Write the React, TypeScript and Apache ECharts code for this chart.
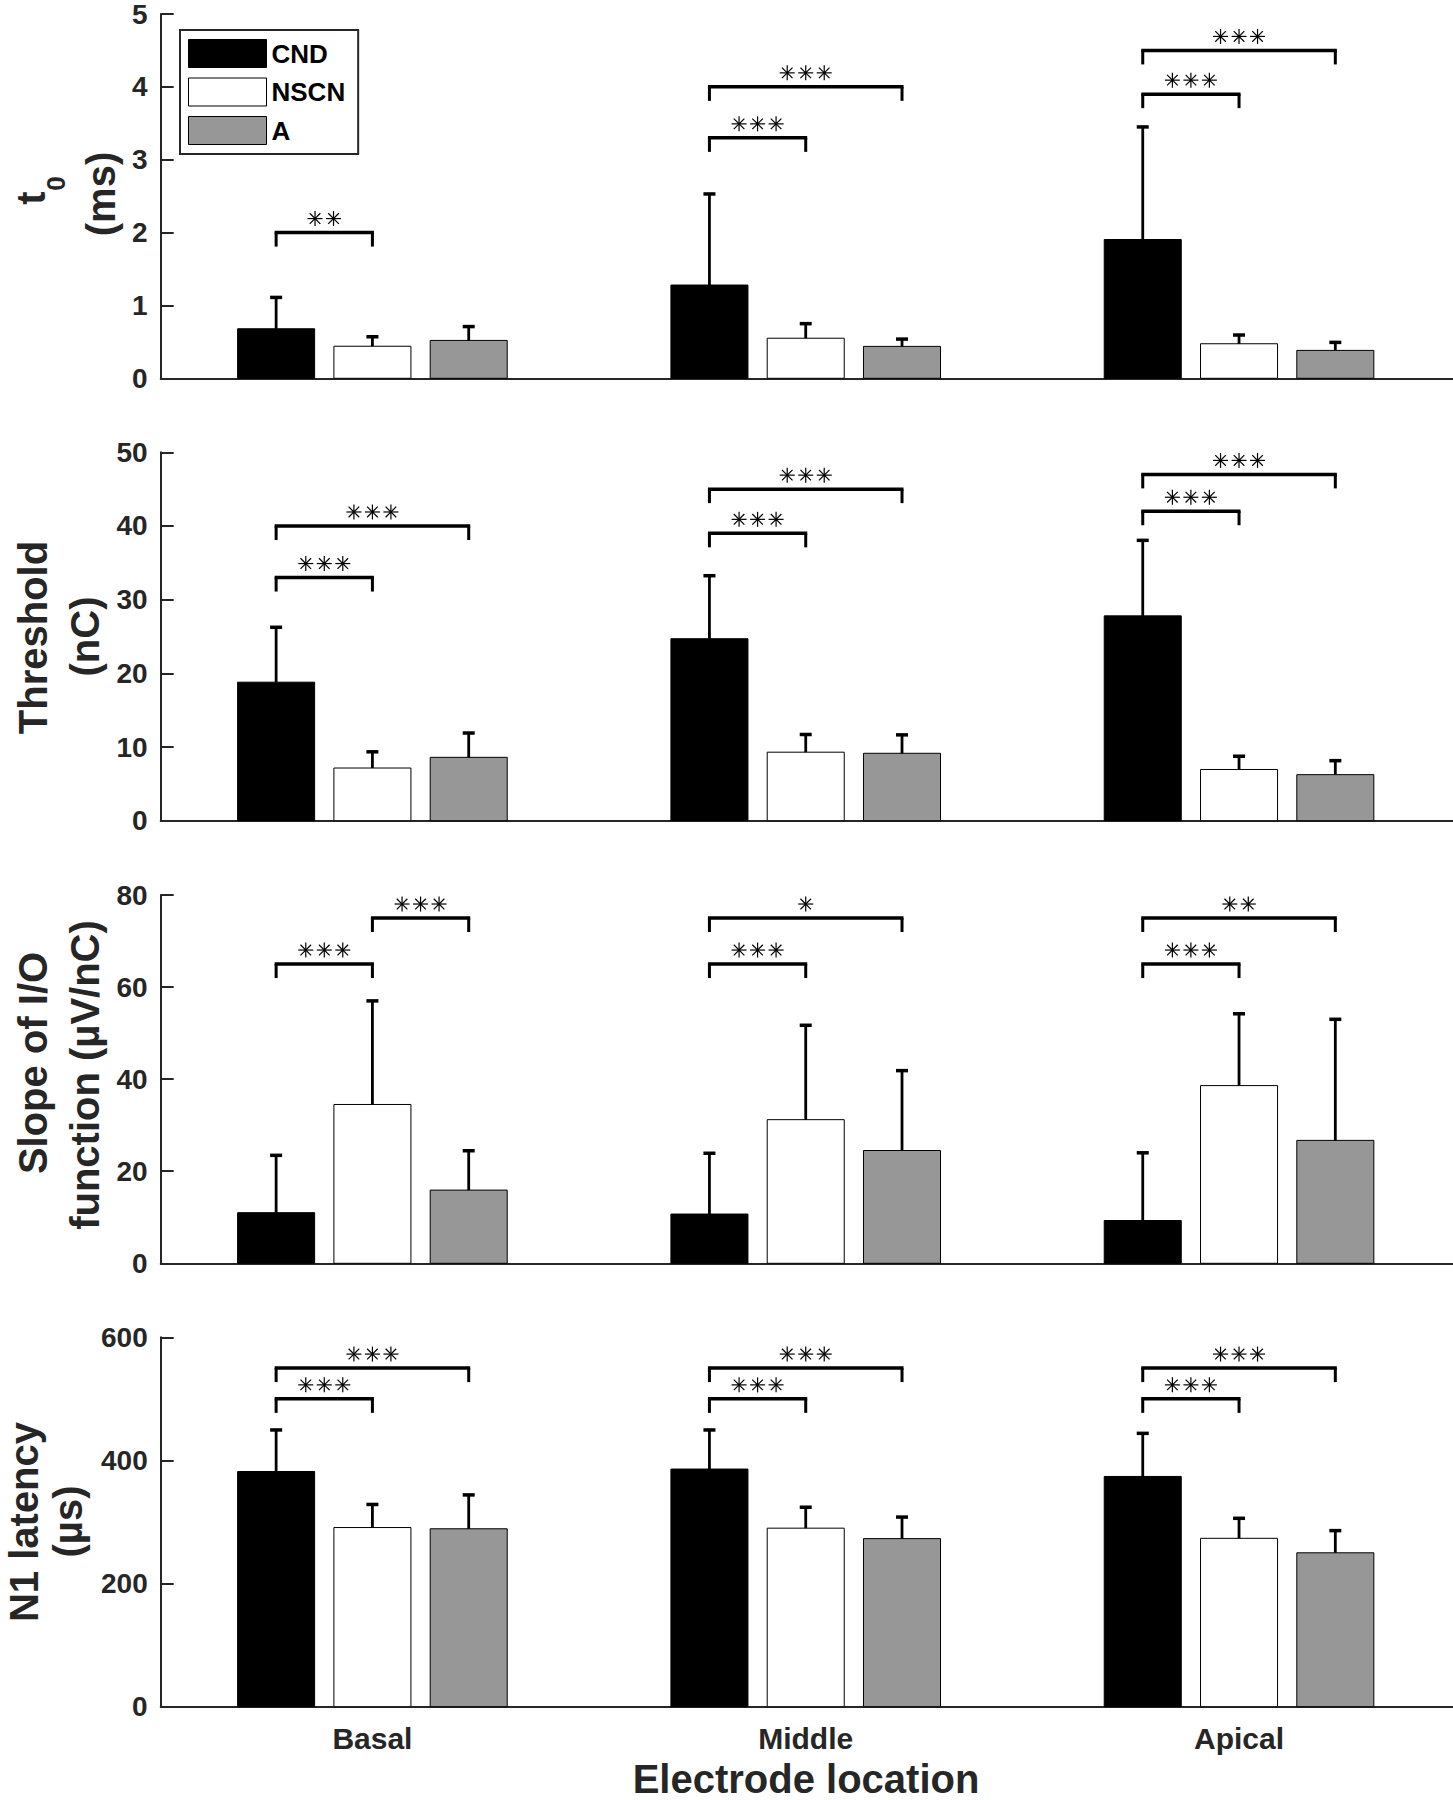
import React, { useEffect, useRef } from 'react';
import * as echarts from 'echarts';

// ---------- data ----------
const CATEGORIES = ['Basal', 'Middle', 'Apical'];
const GROUPS = ['CND', 'NSCN', 'A'];

// t0 (ms)
const T0_CND_MEAN = [0.68, 1.28, 1.905];
const T0_CND_SD = [0.43, 1.25, 1.545];
const T0_NSCN_MEAN = [0.44, 0.55, 0.474];
const T0_NSCN_SD = [0.13, 0.2, 0.12];
const T0_A_MEAN = [0.52, 0.438, 0.383];
const T0_A_SD = [0.19, 0.1, 0.11];

// Threshold (nC)
const TH_CND_MEAN = [18.8, 24.7, 27.8];
const TH_CND_SD = [7.45, 8.55, 10.25];
const TH_NSCN_MEAN = [7.15, 9.3, 6.95];
const TH_NSCN_SD = [2.2, 2.4, 1.8];
const TH_A_MEAN = [8.6, 9.15, 6.25];
const TH_A_SD = [3.3, 2.5, 1.9];

// Slope of I/O function (µV/nC)
const SL_CND_MEAN = [11.0, 10.7, 9.3];
const SL_CND_SD = [12.45, 13.2, 14.7];
const SL_NSCN_MEAN = [34.5, 31.2, 38.6];
const SL_NSCN_SD = [22.5, 20.5, 15.6];
const SL_A_MEAN = [15.9, 24.5, 26.7];
const SL_A_SD = [8.55, 17.35, 26.3];

// N1 latency (µs)
const N1_CND_MEAN = [382, 386, 374];
const N1_CND_SD = [67.5, 63.5, 70];
const N1_NSCN_MEAN = [291, 290, 273.5];
const N1_NSCN_SD = [37.5, 34, 32.5];
const N1_A_MEAN = [289, 273, 250];
const N1_A_SD = [55, 35, 36];

// significance brackets: [category (1..3), from group, to group, level, number of stars]
const T0_BRACKETS = [
  [1, 0, 1, 2.0, 2],
  [2, 0, 1, 3.3, 3],
  [2, 0, 2, 4.0, 3],
  [3, 0, 1, 3.9, 3],
  [3, 0, 2, 4.5, 3],
];
const TH_BRACKETS = [
  [1, 0, 1, 33, 3],
  [1, 0, 2, 40, 3],
  [2, 0, 1, 39, 3],
  [2, 0, 2, 45, 3],
  [3, 0, 1, 42, 3],
  [3, 0, 2, 47, 3],
];
const SL_BRACKETS = [
  [1, 0, 1, 65, 3],
  [1, 1, 2, 75, 3],
  [2, 0, 1, 65, 3],
  [2, 0, 2, 75, 1],
  [3, 0, 1, 65, 3],
  [3, 0, 2, 75, 2],
];
const N1_BRACKETS = [
  [1, 0, 1, 500, 3],
  [1, 0, 2, 550, 3],
  [2, 0, 1, 500, 3],
  [2, 0, 2, 550, 3],
  [3, 0, 1, 500, 3],
  [3, 0, 2, 550, 3],
];

const Y_MAX = [5, 50, 80, 600];
const Y_INTERVAL = [1, 10, 20, 200];

// ---------- styling / layout ----------
const FONT = '"Liberation Sans", Arial, Helvetica, sans-serif';
const AXIS_COLOR = '#262626';
const GROUP_COLORS = ['#000000', '#ffffff', '#979797'];
const GRID_TOP = [9.5, 452.3, 895, 1337.3];
const GRID_BOTTOM = [378.3, 820.7, 1263.3, 1706.7];
const GRID_LEFT = 160.7;
const X_MIN = 0.5114;
const X_MAX = 3.4938;
const OFFSETS = [-2 / 9, 0, 2 / 9];
const BAR_W = 0.8 * 2 / 9;

const PANELS = [
  { mean: [T0_CND_MEAN, T0_NSCN_MEAN, T0_A_MEAN], sd: [T0_CND_SD, T0_NSCN_SD, T0_A_SD], brackets: T0_BRACKETS },
  { mean: [TH_CND_MEAN, TH_NSCN_MEAN, TH_A_MEAN], sd: [TH_CND_SD, TH_NSCN_SD, TH_A_SD], brackets: TH_BRACKETS },
  { mean: [SL_CND_MEAN, SL_NSCN_MEAN, SL_A_MEAN], sd: [SL_CND_SD, SL_NSCN_SD, SL_A_SD], brackets: SL_BRACKETS },
  { mean: [N1_CND_MEAN, N1_NSCN_MEAN, N1_A_MEAN], sd: [N1_CND_SD, N1_NSCN_SD, N1_A_SD], brackets: N1_BRACKETS },
];

function makeBarRender(gi: number) {
  const fill = GROUP_COLORS[gi];
  return (params: any, api: any) => {
    const cat = api.value(0);
    const mean = api.value(1);
    const sd = api.value(2);
    const x = cat + OFFSETS[gi];
    const top = api.coord([x, mean]);
    const base = api.coord([x, 0]);
    const err = api.coord([x, mean + sd]);
    const w = api.size([BAR_W, 0])[0];
    return {
      type: 'group',
      children: [
        {
          type: 'rect',
          shape: { x: top[0] - w / 2, y: top[1], width: w, height: base[1] - top[1] },
          style: { fill, stroke: '#000', lineWidth: 1 },
        },
        {
          type: 'line',
          shape: { x1: top[0], y1: top[1], x2: top[0], y2: err[1] },
          style: { stroke: '#000', lineWidth: 2.8 },
        },
        {
          type: 'line',
          shape: { x1: top[0] - 6, y1: err[1], x2: top[0] + 6, y2: err[1] },
          style: { stroke: '#000', lineWidth: 3.5 },
        },
      ],
    };
  };
}

function bracketRender(params: any, api: any) {
  const cat = api.value(0);
  const from = api.value(1);
  const to = api.value(2);
  const level = api.value(3);
  const n = api.value(4);
  const p1 = api.coord([cat + OFFSETS[from], level]);
  const p2 = api.coord([cat + OFFSETS[to], level]);
  const y = p1[1];
  const st = { stroke: '#000', lineWidth: 3 };
  const children: any[] = [
    { type: 'line', shape: { x1: p1[0] - 1.5, y1: y, x2: p2[0] + 1.5, y2: y }, style: { stroke: '#000', lineWidth: 3.5 } },
    { type: 'line', shape: { x1: p1[0], y1: y, x2: p1[0], y2: y + 14 }, style: st },
    { type: 'line', shape: { x1: p2[0], y1: y, x2: p2[0], y2: y + 14 }, style: st },
  ];
  const cx = (p1[0] + p2[0]) / 2;
  const cy = y - 14;
  const r = 7.5;
  const d = r * 0.7071;
  const ss = { stroke: '#000', lineWidth: 1.2 };
  for (let k = 0; k < n; k++) {
    const sx = cx + (k - (n - 1) / 2) * 18.5;
    children.push(
      { type: 'line', shape: { x1: sx - r, y1: cy, x2: sx + r, y2: cy }, style: ss },
      { type: 'line', shape: { x1: sx, y1: cy - r, x2: sx, y2: cy + r }, style: ss },
      { type: 'line', shape: { x1: sx - d, y1: cy - d, x2: sx + d, y2: cy + d }, style: ss },
      { type: 'line', shape: { x1: sx - d, y1: cy + d, x2: sx + d, y2: cy - d }, style: ss },
      { type: 'circle', shape: { cx: sx, cy, r: 1.3 }, style: { fill: '#000' } },
    );
  }
  return { type: 'group', children };
}

function rotText(text: string, x: number, y: number, size: number) {
  return {
    type: 'text',
    x,
    y,
    rotation: Math.PI / 2,
    style: {
      text,
      x: 0,
      y: 0,
      fill: AXIS_COLOR,
      fontSize: size,
      fontWeight: 'bold',
      fontFamily: FONT,
      align: 'center',
      verticalAlign: 'middle',
      textAlign: 'center',
      textVerticalAlign: 'middle',
    },
  };
}

export default function App() {
  const ref = useRef<HTMLDivElement>(null);

  useEffect(() => {
    if (!ref.current) return;
    const chart = echarts.init(ref.current, undefined, { renderer: 'svg' });

    const grids = PANELS.map((_, i) => ({
      left: GRID_LEFT,
      right: 0,
      top: GRID_TOP[i],
      height: GRID_BOTTOM[i] - GRID_TOP[i],
      containLabel: false,
    }));

    const xAxes = PANELS.map((_, i) => ({
      type: 'value',
      gridIndex: i,
      min: X_MIN,
      max: X_MAX,
      axisLine: { show: true, lineStyle: { color: AXIS_COLOR, width: 2 } },
      axisTick: { show: false },
      splitLine: { show: false },
      axisLabel:
        i === 3
          ? {
              show: true,
              customValues: [1, 2, 3],
              formatter: (v: number) => CATEGORIES[Math.round(v) - 1] || '',
              color: AXIS_COLOR,
              fontSize: 30,
              fontWeight: 'bold',
              fontFamily: FONT,
              margin: 17,
            }
          : { show: false },
    }));

    const yAxes = PANELS.map((_, i) => ({
      type: 'value',
      gridIndex: i,
      min: 0,
      max: Y_MAX[i],
      interval: Y_INTERVAL[i],
      axisLine: { show: true, lineStyle: { color: AXIS_COLOR, width: 2 } },
      axisTick: { show: true, inside: true, length: 13, lineStyle: { color: AXIS_COLOR, width: 2 } },
      splitLine: { show: false },
      axisLabel: {
        color: AXIS_COLOR,
        fontSize: 28,
        fontWeight: 'bold',
        fontFamily: FONT,
        margin: 13,
      },
    }));

    const series: any[] = [];
    PANELS.forEach((p, pi) => {
      GROUPS.forEach((g, gi) => {
        series.push({
          type: 'custom',
          name: g,
          xAxisIndex: pi,
          yAxisIndex: pi,
          itemStyle: { color: GROUP_COLORS[gi], borderColor: '#000' },
          encode: { x: 0, y: 1 },
          renderItem: makeBarRender(gi),
          data: CATEGORIES.map((_, ci) => [ci + 1, p.mean[gi][ci], p.sd[gi][ci]]),
          clip: false,
          z: 2,
        });
      });
      series.push({
        type: 'custom',
        name: 'sig' + pi,
        xAxisIndex: pi,
        yAxisIndex: pi,
        encode: { x: 0, y: 3 },
        renderItem: bracketRender,
        data: p.brackets,
        clip: false,
        z: 3,
        silent: true,
      });
    });

    const graphics: any[] = [
      // panel 1: t0 (ms)
      rotText('t', 31, 198, 40),
      rotText('0', 56, 183.5, 26),
      rotText('(ms)', 101, 194, 40),
      // panel 2
      rotText('Threshold', 33, 637.5, 40),
      rotText('(nC)', 85, 636.5, 40),
      // panel 3
      rotText('Slope of I/O', 33, 1063, 40),
      rotText('function (µV/nC)', 85, 1075, 40),
      // panel 4
      rotText('N1 latency', 24, 1522, 40),
      rotText('(µs)', 68, 1521.5, 40),
      {
        type: 'text',
        x: 806,
        y: 1779,
        style: {
          text: 'Electrode location',
          x: 0,
          y: 0,
          fill: AXIS_COLOR,
          fontSize: 40,
          fontWeight: 'bold',
          fontFamily: FONT,
          align: 'center',
          verticalAlign: 'middle',
          textAlign: 'center',
          textVerticalAlign: 'middle',
        },
      },
    ];

    chart.setOption({
      animation: false,
      backgroundColor: '#ffffff',
      grid: grids,
      xAxis: xAxes,
      yAxis: yAxes,
      legend: {
        show: true,
        orient: 'vertical',
        left: 180,
        top: 30,
        itemWidth: 78,
        itemHeight: 28,
        itemGap: 9.5,
        padding: [9, 13, 9, 8],
        borderColor: AXIS_COLOR,
        borderWidth: 2,
        backgroundColor: '#ffffff',
        selectedMode: false,
        textStyle: { fontSize: 26, fontWeight: 'bold', color: '#000', fontFamily: FONT, lineHeight: 28 },
        data: GROUPS.map((g, gi) => ({
          name: g,
          icon: 'rect',
          itemStyle: { color: GROUP_COLORS[gi], borderColor: '#000', borderWidth: 1 },
        })),
      },
      series,
      graphic: graphics,
    });

    return () => {
      chart.dispose();
    };
  }, []);

  return (
    <div
      ref={ref}
      style={{ position: 'absolute', left: 0, top: 0, width: 1453, height: 1800, background: '#fff' }}
    />
  );
}
